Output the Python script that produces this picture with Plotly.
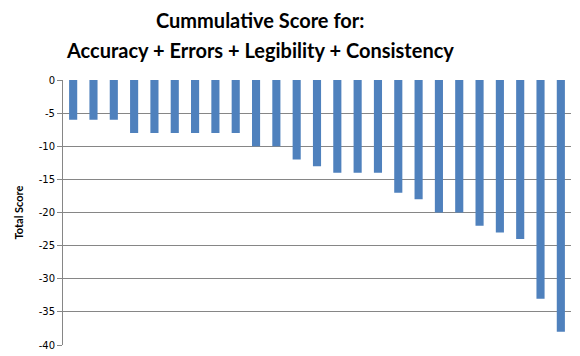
import plotly.graph_objects as go

categories = [f"S{i+1}" for i in range(25)]
scores = [-6, -6, -6, -8, -8, -8, -8, -8, -8, -10, -10, -12, -13, -14, -14, -14,
          -17, -18, -20, -20, -22, -23, -24, -33, -38]
y_ticks = [0, -5, -10, -15, -20, -25, -30, -35, -40]

# page body has an 8px default margin, so the figure starts at (8, 8)
OFF = 8
W, H = 580 - OFF, 356 - OFF
L, R, T, B = 63 - OFF, 9, 80 - OFF, 11
pw, ph = W - L - R, H - T - B

fig = go.Figure(go.Bar(x=categories, y=scores, marker_color="#4F81BD",
                       marker_line_width=0))

title_font = dict(family="Lato, Carlito, Calibri, sans-serif", size=20, color="black")
fig.update_layout(
    width=W, height=H, margin=dict(l=L, r=R, t=T, b=B, autoexpand=False),
    paper_bgcolor="white", plot_bgcolor="white",
    bargap=0.6, showlegend=False,
    annotations=[
        dict(text="<b>Cummulative Score for:</b>", xref="paper", yref="paper",
             x=(260 - OFF - L) / pw, y=1 + (T - (20 - OFF)) / ph, xanchor="center", yanchor="middle",
             showarrow=False, font=title_font),
        dict(text="<b>Accuracy + Errors + Legibility + Consistency</b>", xref="paper", yref="paper",
             x=(260 - OFF - L) / pw, y=1 + (T - (50 - OFF)) / ph, xanchor="center", yanchor="middle",
             showarrow=False, font=title_font),
        dict(text="<b>Total Score</b>", xref="paper", yref="paper",
             x=(18 - OFF - L) / pw, y=0.5, xanchor="center", yanchor="middle", textangle=-90,
             showarrow=False, font=dict(family="Lato, sans-serif", size=11, color="black")),
    ],
)
fig.update_xaxes(showticklabels=False, showgrid=False, ticks="", showline=False,
                 zeroline=False, automargin=False)
fig.update_yaxes(range=[-40, 0], tickvals=y_ticks, ticktext=[str(v) for v in y_ticks],
                 showgrid=True, gridcolor="#868686", automargin=False,
                 gridwidth=1, zeroline=False, showline=True, linecolor="#868686",
                 linewidth=1, ticks="outside", ticklen=5, tickcolor="#868686",
                 tickfont=dict(family="DejaVu Sans, Verdana, sans-serif", size=10, color="black"))

fig.write_html("out.html")
